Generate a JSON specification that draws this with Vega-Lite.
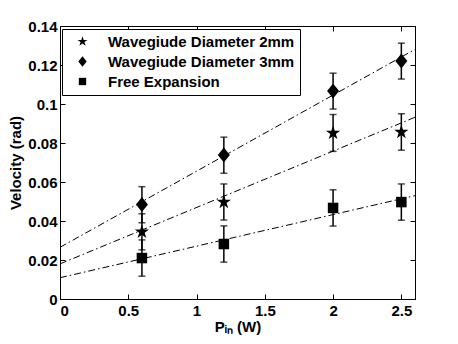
{
  "$schema": "https://vega.github.io/schema/vega-lite/v6.json",
  "width": 355,
  "height": 273,
  "autosize": {"type": "none"},
  "padding": {"left": 60, "top": 26, "right": 43, "bottom": 45},
  "background": "white",
  "config": {
    "font": "Liberation Sans",
    "view": {"stroke": "black", "strokeWidth": 1},
    "axis": {
      "grid": false,
      "domainColor": "black",
      "domainWidth": 1,
      "tickColor": "black",
      "tickSize": -5,
      "labelColor": "black",
      "titleColor": "black",
      "labelFont": "Liberation Sans",
      "labelFontSize": 15,
      "labelFontWeight": "bold",
      "titleFont": "Liberation Sans",
      "titleFontSize": 15,
      "titleFontWeight": "bold"
    }
  },
  "datasets": {
    "fits": [
      {"series": "Wavegiude Diameter 2mm", "x": 0, "y": 0.018},
      {"series": "Wavegiude Diameter 2mm", "x": 2.6, "y": 0.0932},
      {"series": "Wavegiude Diameter 3mm", "x": 0, "y": 0.0265},
      {"series": "Wavegiude Diameter 3mm", "x": 2.6, "y": 0.128},
      {"series": "Free Expansion", "x": 0, "y": 0.0109},
      {"series": "Free Expansion", "x": 2.6, "y": 0.053}
    ],
    "points": [
      {"series": "Wavegiude Diameter 2mm", "x": 0.6, "y": 0.0344, "lo": 0.0252, "hi": 0.0437},
      {"series": "Wavegiude Diameter 2mm", "x": 1.2, "y": 0.0497, "lo": 0.0405, "hi": 0.0590},
      {"series": "Wavegiude Diameter 2mm", "x": 2.0, "y": 0.0851, "lo": 0.0757, "hi": 0.0946},
      {"series": "Wavegiude Diameter 2mm", "x": 2.5, "y": 0.0856, "lo": 0.0763, "hi": 0.0950},
      {"series": "Wavegiude Diameter 3mm", "x": 0.6, "y": 0.0484, "lo": 0.0391, "hi": 0.0576},
      {"series": "Wavegiude Diameter 3mm", "x": 1.2, "y": 0.0738, "lo": 0.0645, "hi": 0.0830},
      {"series": "Wavegiude Diameter 3mm", "x": 2.0, "y": 0.1067, "lo": 0.0974, "hi": 0.1158},
      {"series": "Wavegiude Diameter 3mm", "x": 2.5, "y": 0.1220, "lo": 0.1128, "hi": 0.1312},
      {"series": "Free Expansion", "x": 0.6, "y": 0.0210, "lo": 0.0117, "hi": 0.0303},
      {"series": "Free Expansion", "x": 1.2, "y": 0.0282, "lo": 0.0189, "hi": 0.0375},
      {"series": "Free Expansion", "x": 2.0, "y": 0.0467, "lo": 0.0374, "hi": 0.0560},
      {"series": "Free Expansion", "x": 2.5, "y": 0.0497, "lo": 0.0404, "hi": 0.0590}
    ]
  },
  "layer": [
    {
      "data": {"name": "fits"},
      "mark": {"type": "line", "color": "black", "strokeWidth": 1, "strokeDash": [7, 3, 1.5, 3]},
      "encoding": {
        "x": {
          "field": "x", "type": "quantitative",
          "scale": {"domain": [0, 2.6], "nice": false, "zero": false},
          "axis": {"orient": "bottom", "values": [0, 0.5, 1, 1.5, 2, 2.5], "format": "~g", "title": "Pᵢₙ (W)", "labelPadding": 9, "titlePadding": 1}
        },
        "y": {
          "field": "y", "type": "quantitative",
          "scale": {"domain": [0, 0.14], "nice": false, "zero": false},
          "axis": {"orient": "left", "values": [0, 0.02, 0.04, 0.06, 0.08, 0.1, 0.12, 0.14], "format": "~g", "title": "Velocity (rad)", "labelPadding": 8, "titlePadding": 4}
        },
        "detail": {"field": "series"}
      }
    },
    {
      "data": {"name": "points"},
      "mark": {"type": "rule", "color": "black", "strokeWidth": 1.5},
      "encoding": {
        "x": {
          "field": "x", "type": "quantitative",
          "axis": {"orient": "top", "values": [0, 0.5, 1, 1.5, 2, 2.5], "labels": false, "title": null}
        },
        "y": {
          "field": "lo", "type": "quantitative",
          "axis": {"orient": "right", "values": [0, 0.02, 0.04, 0.06, 0.08, 0.1, 0.12, 0.14], "labels": false, "title": null}
        },
        "y2": {"field": "hi"}
      }
    },
    {
      "data": {"name": "points"},
      "mark": {"type": "tick", "color": "black", "orient": "horizontal", "size": 7, "thickness": 1.5},
      "encoding": {
        "x": {"field": "x", "type": "quantitative", "axis": null},
        "y": {"field": "lo", "type": "quantitative", "axis": null}
      }
    },
    {
      "data": {"name": "points"},
      "mark": {"type": "tick", "color": "black", "orient": "horizontal", "size": 7, "thickness": 1.5},
      "encoding": {
        "x": {"field": "x", "type": "quantitative", "axis": null},
        "y": {"field": "hi", "type": "quantitative", "axis": null}
      }
    },
    {
      "data": {"name": "points"},
      "mark": {"type": "point", "filled": true, "color": "black", "opacity": 1, "size": 225},
      "encoding": {
        "x": {"field": "x", "type": "quantitative", "axis": null},
        "y": {"field": "y", "type": "quantitative", "axis": null},
        "shape": {
          "field": "series", "type": "nominal",
          "scale": {
            "domain": ["Wavegiude Diameter 2mm", "Wavegiude Diameter 3mm", "Free Expansion"],
            "range": [
              "M0,-1L0.2245,-0.309L0.951,-0.309L0.363,0.118L0.588,0.809L0,0.382L-0.588,0.809L-0.363,0.118L-0.951,-0.309L-0.2245,-0.309Z",
              "M0,-1L0.8,0L0,1L-0.8,0Z",
              "M-0.7,-0.7L0.7,-0.7L0.7,0.7L-0.7,0.7Z"
            ]
          },
          "legend": {
            "orient": "none",
            "legendX": 2,
            "legendY": 3,
            "title": null,
            "fillColor": "white",
            "strokeColor": "black",
            "padding": 5,
            "symbolSize": 110,
            "symbolFillColor": "black",
            "symbolStrokeColor": "black",
            "symbolStrokeWidth": 0,
            "symbolOffset": 8,
            "labelOffset": 18,
            "labelFont": "Liberation Sans",
            "labelFontSize": 15,
            "labelFontWeight": "bold",
            "labelColor": "black",
            "labelLimit": 400,
            "rowPadding": 4
          }
        }
      }
    }
  ],
  "resolve": {"axis": {"x": "independent", "y": "independent"}}
}
